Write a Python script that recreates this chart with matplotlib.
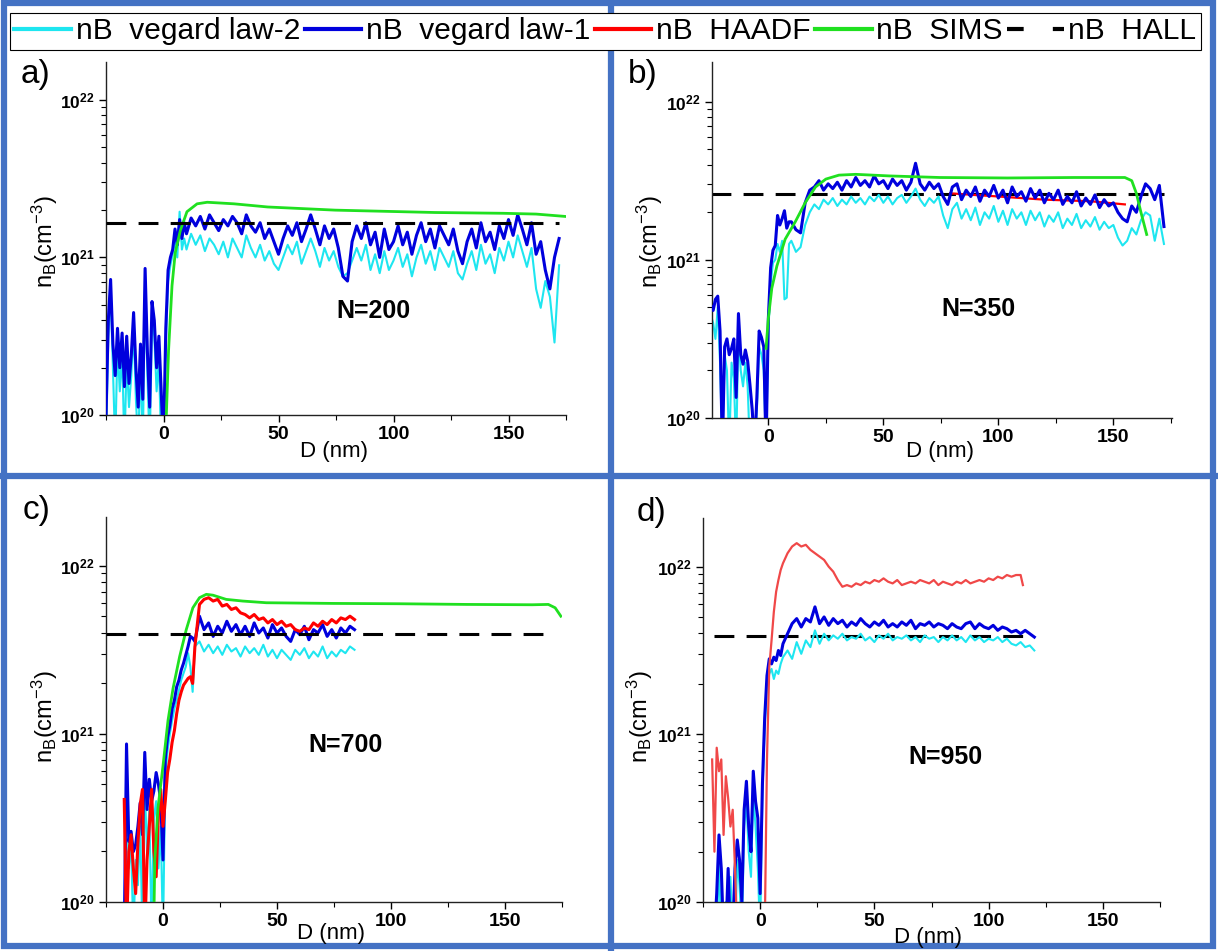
import numpy as np
import matplotlib
matplotlib.use('Agg')
import matplotlib.pyplot as plt
from matplotlib.lines import Line2D
from matplotlib.patches import Rectangle
from matplotlib.ticker import FixedLocator, LogLocator, NullFormatter

plt.rcParams['font.family'] = ['Liberation Sans', 'DejaVu Sans']
plt.rcParams['mathtext.fontset'] = 'custom'
plt.rcParams['mathtext.rm'] = 'Liberation Sans'
plt.rcParams['mathtext.it'] = 'Liberation Sans:italic'
plt.rcParams['mathtext.bf'] = 'Liberation Sans:bold'

# ---------------- data (log10 of nB in cm^-3, D in nm) ----------------
series_names = ['nB  vegard law-2', 'nB  vegard law-1', 'nB  HAADF', 'nB  SIMS', 'nB  HALL']
panel_tags = ['a)', 'b)', 'c)', 'd)']
n_labels = ['N=200', 'N=350', 'N=700', 'N=950']

# Hall level (constant) per panel and its depth extent
hall_n = [1.66e21, 2.6e21, 3.94e21, 3.84e21]
hall_d = [(-25, 172), (-25, 172), (-25, 172), (-20, 116)]

# --- panel a, N=200 ---
d_a = list(range(-25, 10)) + list(range(10, 173, 2))
a_vl1 = [20.00, 20.60, 20.86, 20.45, 20.25, 20.55, 20.30, 20.52, 20.18, 20.50,
         20.20, 20.38, 20.65, 20.30, 20.05, 20.45, 20.10, 20.93, 20.40, 20.05,
         20.72, 20.60, 20.30, 20.50, 20.15, 19.80, 20.55, 20.92, 21.00, 21.05,
         21.18, 21.08, 21.24, 21.12, 21.22,
         21.15, 21.25, 21.20, 21.26, 21.18, 21.27, 21.22, 21.17, 21.24, 21.20,
         21.26, 21.22, 21.15, 21.27, 21.20, 21.16, 21.22, 21.12, 21.18, 21.10,
         21.02, 21.12, 21.20, 21.14, 21.22, 21.10, 21.18, 21.27, 21.18, 21.08,
         21.20, 21.12, 21.18, 21.06, 20.88, 20.85, 21.10, 21.20, 21.12, 21.22,
         21.08, 21.16, 21.00, 21.18, 21.05, 21.10, 21.20, 21.08, 21.16, 21.02,
         21.14, 21.22, 21.10, 21.18, 21.06, 21.20, 21.14, 21.08, 21.18, 21.04,
         20.96, 21.10, 21.18, 21.06, 21.22, 21.10, 21.16, 21.05, 21.20, 21.12,
         21.24, 21.14, 21.27, 21.18, 21.08, 21.22, 21.02, 21.10, 20.92, 20.80,
         21.00, 21.12]
a_vl2 = [19.80, 20.50, 20.80, 20.30, 19.80, 20.45, 20.15, 20.40, 19.80, 20.35,
         20.05, 20.25, 20.55, 20.10, 19.80, 20.35, 19.80, 20.85, 20.25, 19.80,
         20.60, 20.50, 20.15, 20.35, 19.80, 19.80, 20.45, 20.85, 20.95, 21.02,
         21.10, 21.00, 21.29, 21.05, 21.12,
         21.05, 21.15, 21.08, 21.14, 21.04, 21.12, 21.08, 21.02, 21.10, 21.00,
         21.12, 21.06, 21.00, 21.14, 21.06, 21.00, 21.08, 20.98, 21.04, 20.96,
         20.92, 21.00, 21.08, 21.02, 21.10, 20.96, 21.04, 21.12, 21.04, 20.94,
         21.06, 20.98, 21.04, 20.94, 20.88, 20.90, 20.98, 21.06, 20.98, 21.08,
         20.92, 21.02, 20.90, 21.04, 20.92, 20.98, 21.06, 20.94, 21.02, 20.88,
         21.00, 21.08, 20.96, 21.04, 20.92, 21.06, 21.00, 20.94, 21.04, 20.90,
         20.86, 20.96, 21.04, 20.92, 21.08, 20.96, 21.02, 20.90, 21.06, 20.98,
         21.10, 21.00, 21.14, 21.04, 20.94, 21.06, 20.80, 20.68, 20.85, 20.75,
         20.46, 20.95]
a_sims_d = [1, 2.2, 3.7, 5.1, 7.3, 10.2, 14.6, 19, 30.7, 45.3, 60, 74.6, 89, 118, 147.7, 162, 174.7]
a_sims = [19.90, 20.41, 20.82, 21.03, 21.17, 21.29, 21.34, 21.35, 21.34, 21.32,
          21.31, 21.30, 21.295, 21.285, 21.28, 21.275, 21.26]

# --- panel b, N=350 ---
d_b = list(range(-25, 10)) + list(range(10, 173, 2))
b_vl1 = [20.71, 20.68, 20.75, 20.77, 20.55, 19.80, 20.45, 20.50, 20.40, 20.44,
         20.50, 20.13, 20.66, 20.40, 20.34, 20.43, 20.36, 20.21, 20.05, 19.80,
         20.13, 20.55, 20.51, 20.45, 19.80, 20.63, 20.95, 21.06, 21.09, 21.28,
         21.22, 21.26, 21.31, 21.20, 21.24,
         21.24, 21.19, 21.17, 21.36, 21.44, 21.46, 21.50, 21.44, 21.48, 21.45,
         21.49, 21.44, 21.50, 21.46, 21.52, 21.47, 21.50, 21.46, 21.53, 21.48,
         21.50, 21.45, 21.51, 21.47, 21.50, 21.44, 21.49, 21.61, 21.48, 21.44,
         21.49, 21.45, 21.48, 21.40, 21.35, 21.46, 21.48, 21.38, 21.44, 21.40,
         21.46, 21.37, 21.44, 21.40, 21.47, 21.39, 21.44, 21.36, 21.46, 21.40,
         21.43, 21.37, 21.45, 21.39, 21.44, 21.36, 21.42, 21.38, 21.44, 21.35,
         21.40, 21.36, 21.43, 21.34, 21.39, 21.35, 21.41, 21.33, 21.38, 21.34,
         21.36, 21.30, 21.26, 21.24, 21.34, 21.30, 21.40, 21.48, 21.45, 21.38,
         21.47, 21.21]
b_vl2 = [20.65, 20.60, 20.50, 20.70, 20.35, 19.80, 20.40, 20.30, 19.80, 20.35,
         20.25, 19.80, 20.55, 20.30, 20.20, 20.35, 20.20, 19.80, 19.80, 19.80,
         20.05, 20.45, 20.40, 20.30, 19.80, 20.55, 20.85, 20.98, 21.00, 21.10,
         21.05, 21.12, 20.75, 20.76, 21.10,
         21.12, 21.05, 21.08, 21.22, 21.30, 21.35, 21.32, 21.38, 21.35, 21.39,
         21.34, 21.38, 21.35, 21.40, 21.36, 21.39, 21.35, 21.40, 21.37, 21.41,
         21.36, 21.40, 21.35, 21.39, 21.41, 21.36, 21.40, 21.45, 21.38, 21.34,
         21.39, 21.36, 21.40, 21.28, 21.20, 21.32, 21.36, 21.26, 21.32, 21.25,
         21.33, 21.22, 21.30, 21.26, 21.34, 21.24, 21.31, 21.22, 21.32, 21.26,
         21.30, 21.22, 21.31, 21.25, 21.30, 21.21, 21.28, 21.24, 21.30, 21.20,
         21.26, 21.22, 21.29, 21.20, 21.25, 21.21, 21.27, 21.19, 21.24, 21.20,
         21.22, 21.14, 21.09, 21.12, 21.20, 21.16, 21.25, 21.30, 21.28, 21.12,
         21.26, 21.10]
b_haadf_d = [79, 100, 120, 140, 155]
b_haadf = [21.42, 21.40, 21.38, 21.37, 21.35]
b_sims_d = [-1, 0, 1.5, 3.7, 7.3, 11.7, 16, 20.5, 25, 30.7, 38, 52.6, 74.6, 104, 133, 155, 158, 160, 162, 164.5]
b_sims = [20.44, 20.63, 20.82, 20.96, 21.13, 21.24, 21.36, 21.46, 21.51, 21.535,
          21.54, 21.53, 21.52, 21.517, 21.52, 21.52, 21.50, 21.42, 21.30, 21.16]

# --- panel c, N=700 ---
d_c = list(range(-17, 14)) + list(range(14, 85, 2))
c_vl1 = [19.80, 20.94, 20.36, 20.42, 20.30, 20.34, 20.45, 20.59, 20.40, 20.89,
         20.55, 20.73, 20.60, 20.66, 20.77, 20.70, 20.60, 20.25, 20.85, 20.98,
         21.05, 21.15, 21.20, 21.28, 21.32, 21.38, 21.42, 21.47, 21.52, 21.58, 21.57,
         21.55, 21.70, 21.62, 21.66, 21.58, 21.64, 21.60, 21.67, 21.61, 21.65,
         21.59, 21.64, 21.58, 21.66, 21.60, 21.63, 21.57, 21.65, 21.60, 21.63,
         21.58, 21.55, 21.62, 21.59, 21.64, 21.56, 21.62, 21.60, 21.65, 21.58,
         21.62, 21.57, 21.63, 21.60, 21.64, 21.62]
c_vl2 = [19.80, 20.70, 20.20, 20.35, 19.80, 20.25, 20.10, 20.45, 19.80, 20.70,
         20.30, 20.55, 19.80, 20.50, 20.60, 20.20, 20.45, 19.80, 20.75, 20.90,
         21.00, 21.08, 21.15, 21.20, 21.26, 21.32, 21.36, 21.40, 21.48, 21.40, 21.25,
         21.52, 21.55, 21.49, 21.53, 21.48, 21.52, 21.47, 21.53, 21.49, 21.51,
         21.46, 21.52, 21.48, 21.51, 21.47, 21.53, 21.46, 21.50, 21.45, 21.50,
         21.47, 21.44, 21.50, 21.47, 21.51, 21.45, 21.49, 21.46, 21.52, 21.45,
         21.49, 21.46, 21.50, 21.48, 21.52, 21.50]
c_haadf = [20.61, 19.80, 20.30, 20.40, 20.20, 20.05, 20.35, 20.58, 20.67, 19.80,
           20.25, 20.45, 20.67, 20.30, 20.15, 20.52, 20.67, 20.45, 20.60, 20.77,
           20.85, 20.95, 21.02, 21.12, 21.20, 21.25, 21.29, 21.31, 21.33, 21.34, 21.30,
           21.52, 21.77, 21.80, 21.81, 21.79, 21.80, 21.76, 21.77, 21.74, 21.75,
           21.72, 21.71, 21.69, 21.71, 21.68, 21.69, 21.66, 21.68, 21.65, 21.67,
           21.64, 21.65, 21.62, 21.61, 21.63, 21.62, 21.66, 21.64, 21.67, 21.65,
           21.68, 21.66, 21.69, 21.68, 21.70, 21.68]
c_sims_d = [-4, -3.6, -2.2, 0, 2.2, 4.4, 7.3, 10.2, 13.1, 16, 19, 21.9, 27.7, 35, 45.3,
            74.5, 103.6, 133, 162, 169, 172, 174.5]
c_sims = [19.90, 20.25, 20.56, 20.81, 21.08, 21.27, 21.46, 21.62, 21.75, 21.81, 21.83,
          21.825, 21.80, 21.79, 21.78, 21.776, 21.774, 21.77, 21.768, 21.77, 21.75, 21.70]

# --- panel d, N=950 ---
d_d = list(range(-20, 10)) + list(range(10, 121, 2))
d_vl1 = [19.80, 20.05, 20.40, 20.20, 19.80, 19.80, 20.20, 19.80, 19.80, 20.20,
         20.37, 20.25, 20.00, 20.55, 20.72, 20.45, 20.30, 20.78, 20.60, 20.50,
         20.05, 20.70, 21.10, 21.35, 21.45, 21.42, 21.46, 21.44, 21.50, 21.47,
         21.54, 21.60, 21.66, 21.69, 21.64, 21.69, 21.67, 21.76, 21.66, 21.70,
         21.65, 21.69, 21.66, 21.68, 21.64, 21.67, 21.65, 21.69, 21.66, 21.64,
         21.67, 21.65, 21.68, 21.64, 21.66, 21.64, 21.67, 21.65, 21.68, 21.63,
         21.66, 21.65, 21.67, 21.64, 21.66, 21.65, 21.63, 21.66, 21.64, 21.63,
         21.66, 21.67, 21.63, 21.66, 21.64, 21.63, 21.65, 21.62, 21.64, 21.63,
         21.61, 21.62, 21.60, 21.62, 21.60, 21.58]
d_vl2 = [19.80, 19.80, 20.25, 19.80, 19.80, 20.00, 19.80, 20.15, 19.80, 19.80,
         20.25, 20.10, 19.80, 20.45, 20.60, 20.30, 20.15, 20.65, 20.45, 20.20,
         19.80, 20.65, 21.05, 21.28, 21.36, 21.39, 21.33, 21.38, 21.36, 21.42,
         21.46, 21.50, 21.45, 21.55, 21.48, 21.56, 21.52, 21.62, 21.54, 21.60,
         21.56, 21.59, 21.57, 21.60, 21.56, 21.58, 21.57, 21.60, 21.56, 21.58,
         21.55, 21.59, 21.57, 21.60, 21.56, 21.58, 21.57, 21.59, 21.56, 21.58,
         21.55, 21.59, 21.57, 21.58, 21.55, 21.58, 21.56, 21.59, 21.56, 21.58,
         21.55, 21.59, 21.56, 21.58, 21.55, 21.57, 21.56, 21.58, 21.55, 21.57,
         21.54, 21.53, 21.55, 21.52, 21.53, 21.50]
d_haadf_d = list(range(-21, 10)) + list(range(10, 115, 2)) + [115]
d_haadf = [20.85, 20.30, 20.92, 20.78, 20.85, 20.40, 20.75, 20.62, 20.45, 20.55,
           20.20, 19.80, 19.80, 19.80, 19.80, 19.80, 19.80, 19.80, 19.80, 19.80,
           19.80, 19.80, 19.80, 19.80, 20.85, 21.40, 21.56, 21.73, 21.85, 21.92, 21.98,
           22.02, 22.08, 22.12, 22.14, 22.12, 22.13, 22.10, 22.08, 22.06, 22.04,
           22.00, 21.97, 21.92, 21.88, 21.89, 21.88, 21.90, 21.89, 21.91, 21.90,
           21.92, 21.91, 21.93, 21.91, 21.90, 21.92, 21.89, 21.90, 21.91, 21.90,
           21.92, 21.91, 21.90, 21.92, 21.89, 21.91, 21.90, 21.89, 21.91, 21.90,
           21.92, 21.90, 21.91, 21.92, 21.91, 21.93, 21.92, 21.94, 21.93, 21.95,
           21.94, 21.95, 21.95, 21.89]

# ---------------- figure ----------------
W, H = 1218, 951
fig = plt.figure(figsize=(W / 100, H / 100), dpi=100)

def px_box(l, r, t, b):
    return [l / W, 1 - b / H, (r - l) / W, (b - t) / H]

cyan, blue, red, green = '#1ee6f0', '#0000dd', '#ff0000', '#20e020'

panels = [
    dict(box=(106, 566, 62, 415), xlim=(-25, 175), top=22.24,
         vl2=(d_a, a_vl2), vl1=(d_a, a_vl1), haadf=None, sims=(a_sims_d, a_sims),
         red=red, hall_top=True),
    dict(box=(712, 1172, 62, 418), xlim=(-24.5, 175.5), top=22.25,
         vl2=(d_b, b_vl2), vl1=(d_b, b_vl1), haadf=(b_haadf_d, b_haadf), sims=(b_sims_d, b_sims),
         red=red, hall_top=False),
    dict(box=(106, 562, 517, 902), xlim=(-25, 175), top=22.29,
         vl2=(d_c, c_vl2), vl1=(d_c, c_vl1), haadf=(d_c, c_haadf), sims=(c_sims_d, c_sims),
         red=red, hall_top=True),
    dict(box=(703, 1160, 518, 902), xlim=(-25, 175), top=22.29,
         vl2=(d_d, d_vl2), vl1=(d_d, d_vl1), haadf=(d_haadf_d, d_haadf), sims=None,
         red='#f04848', hall_top=False),
]

for i, p in enumerate(panels):
    ax = fig.add_axes(px_box(*p['box']))
    ax.set_yscale('log')
    x, y = p['vl2']
    ax.plot(x, 10 ** np.array(y), color=cyan, lw=1.5, zorder=2)
    x, y = p['vl1']
    ax.plot(x, 10 ** np.array(y), color=blue, lw=2.2, zorder=3)
    if p['haadf'] is not None:
        x, y = p['haadf']
        ax.plot(x, 10 ** np.array(y), color=p['red'], lw=2.2 if i == 2 else 1.6,
                zorder=4 if i != 1 else 2.5)
    if p['sims'] is not None:
        x, y = p['sims']
        ax.plot(x, 10 ** np.array(y), color=green, lw=2.0, zorder=5)
    ax.plot(hall_d[i], [hall_n[i], hall_n[i]], color='black', lw=2.2,
            linestyle=(0, (6.5, 4)), zorder=6 if p['hall_top'] else 1.8)

    ax.set_xlim(*p['xlim'])
    ax.set_ylim(1e20, 10 ** p['top'])
    for s in ['top', 'right']:
        ax.spines[s].set_visible(False)
    for s in ['left', 'bottom']:
        ax.spines[s].set_linewidth(1.0)
        ax.spines[s].set_color('#222222')

    ax.set_xticks([0, 50, 100, 150])
    ax.set_xticklabels(['0', '50', '100', '150'], fontsize=14, fontweight='bold')
    ax.xaxis.set_minor_locator(FixedLocator([-25, 25, 75, 125, 175]))
    ax.set_yticks([1e20, 1e21, 1e22])
    ax.set_yticklabels([r'$\mathbf{10^{20}}$', r'$\mathbf{10^{21}}$', r'$\mathbf{10^{22}}$'],
                       fontsize=12.5)
    ax.yaxis.set_minor_locator(LogLocator(base=10, subs=np.arange(2, 10)))
    ax.yaxis.set_minor_formatter(NullFormatter())
    ax.tick_params(which='major', direction='out', length=5, width=1, pad=3)
    ax.tick_params(which='minor', direction='out', length=3.5, width=0.8)
    ax.patch.set_alpha(0)

# panel texts (figure pixel positions)
tag_pos = [(35, 75), (643, 75), (37, 510), (652, 513)]
n_pos = [(373, 311), (978, 309), (345, 745), (945, 757)]
ylab_pos = [(45, 242), (650, 242), (45, 717), (640, 717)]
xlab_pos = [(334, 452), (940, 452), (331, 933), (928, 937)]
for i in range(4):
    fig.text(tag_pos[i][0] / W, 1 - tag_pos[i][1] / H, panel_tags[i], fontsize=24,
             ha='center', va='center')
    fig.text(n_pos[i][0] / W, 1 - n_pos[i][1] / H, n_labels[i], fontsize=18,
             fontweight='bold', ha='center', va='center')
    fig.text(ylab_pos[i][0] / W, 1 - ylab_pos[i][1] / H, r'n$_\mathrm{B}$(cm$^{-3}$)',
             fontsize=17, rotation=90, ha='center', va='center')
    fig.text(xlab_pos[i][0] / W, 1 - xlab_pos[i][1] / H, 'D (nm)', fontsize=16,
             ha='center', va='center')

# blue frame around the four panels
frame_col = '#4472c4'
fig.add_artist(Rectangle((4 / W, 1 - 946 / H), 1209 / W, 943 / H, fill=False,
                         ec=frame_col, lw=4.5, transform=fig.transFigure))
fig.add_artist(Line2D([611 / W, 611 / W], [0, 1], color=frame_col, lw=4.5,
                      transform=fig.transFigure))
fig.add_artist(Line2D([0, 1], [1 - 476 / H, 1 - 476 / H], color=frame_col, lw=4.5,
                      transform=fig.transFigure))

# legend across the top
handles = [Line2D([], [], color=cyan, lw=3),
           Line2D([], [], color=blue, lw=3),
           Line2D([], [], color=red, lw=3),
           Line2D([], [], color=green, lw=3),
           Line2D([], [], color='black', lw=3, linestyle=(0, (4, 7)))]
leg = fig.legend(handles, series_names, loc='upper left', bbox_to_anchor=(10 / W, 1 - 13 / H),
                 ncol=5, fontsize=21.5, frameon=True, fancybox=False, edgecolor='black',
                 framealpha=1, handlelength=1.9, handletextpad=0.15, columnspacing=0.15,
                 borderpad=0.15, borderaxespad=0)
leg.get_frame().set_linewidth(0.8)

fig.savefig('out.png', dpi=100)
